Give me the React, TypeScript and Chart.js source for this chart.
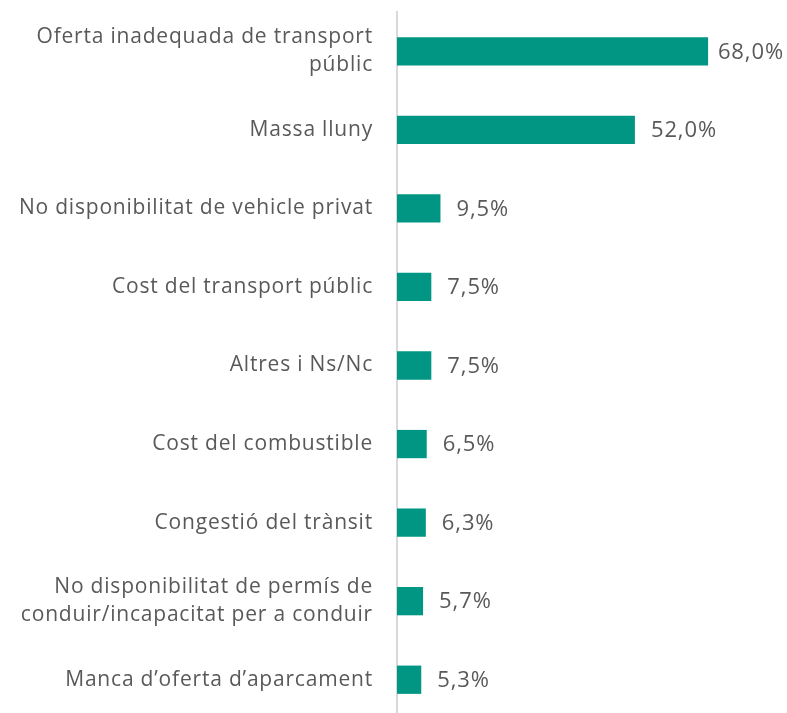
import React, { useEffect, useRef } from "react";
import { Chart, registerables } from "chart.js";

Chart.register(...registerables);

const categories: (string | string[])[] = [
  ["Oferta inadequada de transport", "públic"],
  "Massa lluny",
  "No disponibilitat de vehicle privat",
  "Cost del transport públic",
  "Altres i Ns/Nc",
  "Cost del combustible",
  "Congestió del trànsit",
  ["No disponibilitat de permís de", "conduir/incapacitat per a conduir"],
  "Manca d\u2019oferta d\u2019aparcament",
];

const values: number[] = [68.0, 52.0, 9.5, 7.5, 7.5, 6.5, 6.3, 5.7, 5.3];

const valueLabels: string[] = values.map((v) => v.toFixed(1).replace(".", ",") + "%");

const FONT = "'Open Sans', sans-serif";
const TEXT_COLOR = "#595959";
const BAR_COLOR = "#009683";
const SPACING = "0.8px";

const spacingPlugin = {
  id: "spacing",
  beforeDraw(chart: any) {
    chart.ctx.letterSpacing = SPACING;
  },
  afterDraw(chart: any) {
    chart.ctx.letterSpacing = "0px";
  },
};

const valueLabelPlugin = {
  id: "valueLabels",
  afterDatasetsDraw(chart: any) {
    const ctx = chart.ctx;
    const meta = chart.getDatasetMeta(0);
    ctx.save();
    ctx.letterSpacing = "0.9px";
    ctx.font = `22px ${FONT}`;
    ctx.fillStyle = TEXT_COLOR;
    ctx.textAlign = "left";
    ctx.textBaseline = "middle";
    meta.data.forEach((bar: any, i: number) => {
      const txt = valueLabels[i];
      const w = ctx.measureText(txt).width;
      let x = bar.x + 16;
      const maxX = chart.width - 3 - w;
      if (x > maxX) x = Math.max(bar.x + 4, maxX);
      ctx.fillText(txt, x, bar.y + 1);
    });
    ctx.restore();
  },
};

export default function App() {
  const ref = useRef<HTMLCanvasElement | null>(null);

  useEffect(() => {
    if (!ref.current) return;
    const chart = new Chart(ref.current, {
      type: "bar",
      data: {
        labels: categories,
        datasets: [
          {
            data: values,
            backgroundColor: BAR_COLOR,
            borderWidth: 0,
            barPercentage: 0.36,
            categoryPercentage: 1,
          },
        ],
      },
      options: {
        indexAxis: "y",
        responsive: false,
        animation: false,
        maintainAspectRatio: false,
        layout: { padding: { top: 12, bottom: 11, right: 24, left: 0 } },
        plugins: {
          legend: { display: false },
          tooltip: { enabled: false },
        },
        scales: {
          x: {
            display: false,
            min: 0,
            max: 80,
          },
          y: {
            afterFit(scale: any) {
              scale.width = 397;
              scale.paddingTop = 0;
              scale.paddingBottom = 0;
            },
            grid: { display: false, drawTicks: false },
            border: { display: true, color: "#d9d9d9", width: 2 },
            ticks: {
              color: TEXT_COLOR,
              font: { family: FONT, size: 21, lineHeight: 1.34 },
              padding: 24,
              autoSkip: false,
            },
          },
        },
      },
      plugins: [spacingPlugin, valueLabelPlugin],
    });
    return () => chart.destroy();
  }, []);

  return (
    <div
      style={{
        position: "fixed",
        left: 0,
        top: 0,
        width: 787,
        height: 713,
        overflow: "hidden",
        background: "#fff",
      }}
    >
      <canvas ref={ref} width={787} height={730} style={{ display: "block" }} />
    </div>
  );
}
